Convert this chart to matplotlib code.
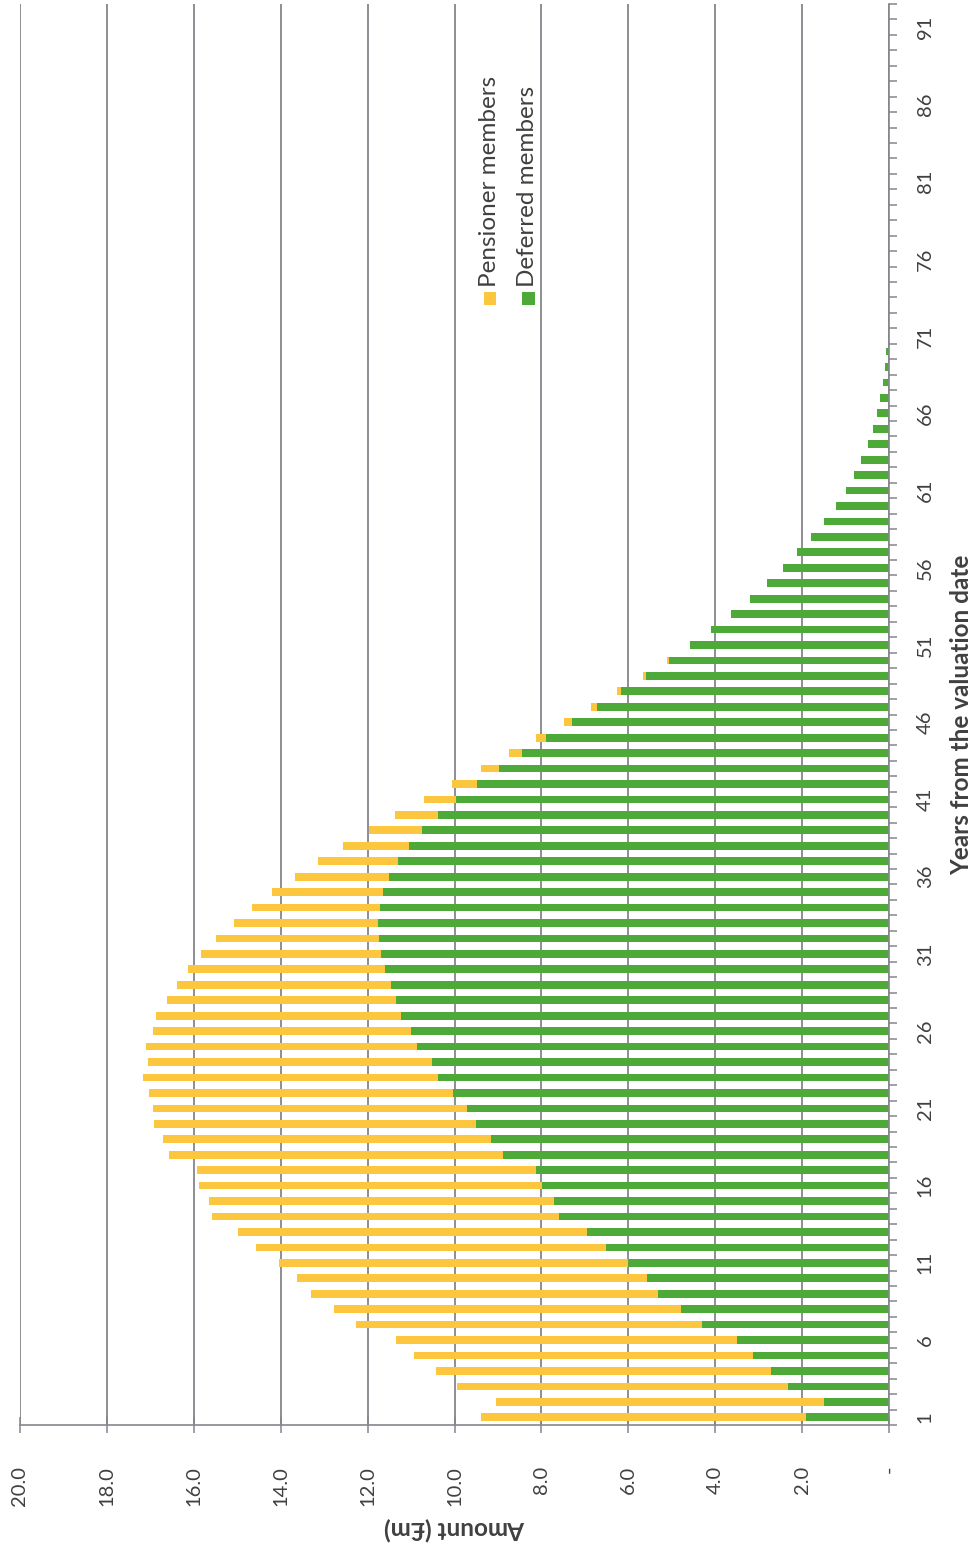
import numpy as np
import matplotlib
matplotlib.use("Agg")
import matplotlib.pyplot as plt
from matplotlib.patches import Rectangle

plt.rcParams['font.family'] = ['Lato', 'DejaVu Sans']

# ---- data ----
years = list(range(1, 93))
year_tick_labels = list(range(1, 92, 5))
amount_ticks = [0, 2, 4, 6, 8, 10, 12, 14, 16, 18, 20]
amount_tick_labels = ['-', '2.0', '4.0', '6.0', '8.0', '10.0', '12.0', '14.0', '16.0', '18.0', '20.0']

deferred = [1.92, 1.49, 2.32, 2.71, 3.14, 3.49, 4.31, 4.78, 5.31, 5.57,
            6.01, 6.51, 6.96, 7.60, 7.71, 7.99, 8.12, 8.89, 9.17, 9.51,
            9.72, 10.03, 10.39, 10.51, 10.86, 11.01, 11.23, 11.34, 11.46, 11.60,
            11.70, 11.74, 11.76, 11.72, 11.64, 11.50, 11.30, 11.05, 10.74, 10.37,
            9.96, 9.48, 8.97, 8.45, 7.90, 7.30, 6.73, 6.17, 5.59, 5.06,
            4.57, 4.09, 3.64, 3.21, 2.81, 2.44, 2.11, 1.80, 1.50, 1.22,
            1.00, 0.80, 0.64, 0.49, 0.37, 0.27, 0.20, 0.14, 0.10, 0.06,
            0.03, 0.01]
pensioner = [7.47, 7.55, 7.62, 7.72, 7.79, 7.86, 7.96, 8.00, 8.00, 8.06,
             8.04, 8.05, 8.03, 7.99, 7.94, 7.88, 7.80, 7.69, 7.55, 7.40,
             7.21, 7.00, 6.79, 6.54, 6.25, 5.94, 5.63, 5.28, 4.92, 4.54,
             4.14, 3.74, 3.32, 2.94, 2.55, 2.18, 1.84, 1.51, 1.22, 0.99,
             0.75, 0.58, 0.42, 0.30, 0.22, 0.17, 0.13, 0.10, 0.08, 0.05,
             0.02, 0.01]

series_names = ['Pensioner members', 'Deferred members']

# ---- style ----
YELLOW = '#FCC73E'
GREEN = '#4DAA39'
TEXT = '#404040'
GRID = '#85868c'

W, H = 976, 1554
fig = plt.figure(figsize=(W / 100, H / 100), dpi=100)
fig.patch.set_facecolor('white')

ax_left, ax_right, ax_top, ax_bottom = 20, 889, 4, 1425
ax = fig.add_axes([ax_left / W, (H - ax_bottom) / H,
                   (ax_right - ax_left) / W, (ax_bottom - ax_top) / H])

n = len(years)
d = np.array(deferred + [0.0] * (n - len(deferred)))
p = np.array(pensioner + [0.0] * (n - len(pensioner)))

ax.barh(years, d, height=0.5, color=GREEN, zorder=2, linewidth=0)
ax.barh(years, p, left=d, height=0.5, color=YELLOW, zorder=2, linewidth=0)

ax.set_xlim(20, 0)
ax.set_ylim(0.5, n + 0.5)

# amount axis (bottom)
ax.set_xticks(amount_ticks)
ax.set_xticklabels(amount_tick_labels, rotation=90, va='top', ha='center',
                   fontsize=14.5, color=TEXT)
ax.tick_params(axis='x', direction='inout', length=11, width=1.1, color=GRID, pad=24)
ax.xaxis.grid(True, color=GRID, linewidth=1.3, zorder=0)
ax.set_axisbelow(True)
ax.set_xlabel('Amount (£m)', rotation=180, fontsize=17.5, fontweight='bold',
              color=TEXT, labelpad=8)

# years axis (right)
ax.yaxis.tick_right()
ax.set_yticks(year_tick_labels)
ax.set_yticklabels([str(v) for v in year_tick_labels], rotation=90,
                   va='center', ha='left', fontsize=14.5, color=TEXT)
ax.set_yticks(np.arange(0.5, n + 1, 1), minor=True)
ax.tick_params(axis='y', which='major', length=0, pad=20)
ax.tick_params(axis='y', which='minor', direction='out', length=6, width=1.1, color=GRID)
fig.text(962 / W, 1 - 715 / H, 'Years from the valuation date', rotation=90,
         ha='center', va='center', fontsize=17.5, fontweight='bold', color=TEXT)

for side in ['top', 'left']:
    ax.spines[side].set_visible(False)
for side in ['right', 'bottom']:
    ax.spines[side].set_color(GRID)
    ax.spines[side].set_linewidth(1.2)

# legend (rotated, drawn manually)
leg_items = [(series_names[0], YELLOW, 490), (series_names[1], GREEN, 528)]
for name, col, xc in leg_items:
    s = 13
    fig.add_artist(Rectangle(((xc - s / 2) / W, (H - 305) / H), s / W, s / H,
                             transform=fig.transFigure, color=col, linewidth=0))
    fig.text(xc / W, (H - 287) / H, name, rotation=90, ha='center', va='bottom',
             fontsize=17.5, color=TEXT)

fig.savefig('out.png', dpi=100, facecolor='white')
